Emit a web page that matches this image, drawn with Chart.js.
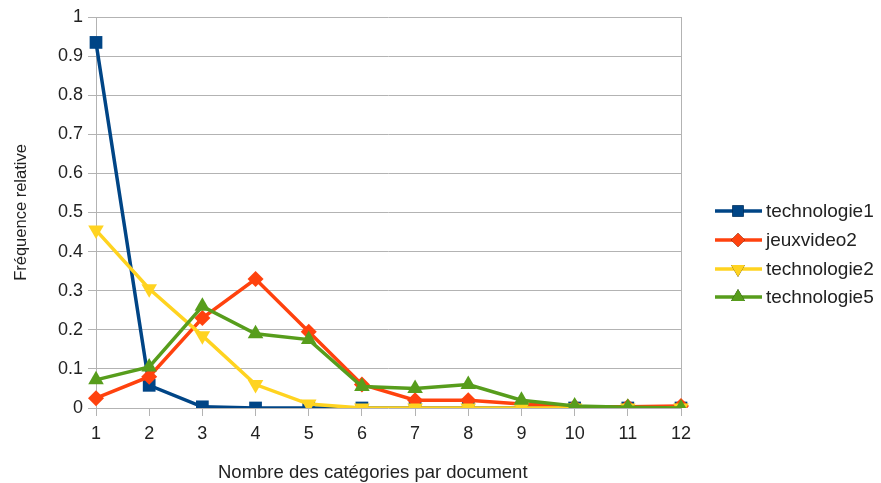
<!DOCTYPE html>
<html>
<head>
<meta charset="utf-8">
<script src="https://cdn.jsdelivr.net/npm/chart.js@4.4.0/dist/chart.umd.min.js"></script>
<style>
  html, body { margin: 0; padding: 0; background: #fff; }
  #wrap { width: 881px; height: 483px; }
</style>
</head>
<body>
<div id="wrap"><canvas id="chart"></canvas></div>
<script>
const categories = ['1', '2', '3', '4', '5', '6', '7', '8', '9', '10', '11', '12'];
const technologie1 = [0.935, 0.058, 0.003, 0, 0, 0, 0, 0, 0, 0, 0, 0];
const jeuxvideo2 = [0.025, 0.08, 0.23, 0.33, 0.195, 0.06, 0.02, 0.02, 0.01, 0.003, 0.003, 0.005];
const technologie2 = [0.455, 0.305, 0.185, 0.06, 0.01, 0, 0, 0, 0, 0, 0, 0];
const technologie5 = [0.072, 0.105, 0.26, 0.19, 0.175, 0.055, 0.05, 0.06, 0.02, 0.005, 0.002, 0];
const xTitle = 'Nombre des catégories par document';

const font = "'Liberation Sans', Arial, sans-serif";
const textColor = '#222';

function series(label, data, color, pointStyle, rotation, radius, order) {
    return {
        label, data, order,
        borderColor: color, backgroundColor: color,
        borderWidth: 3.5,
        pointStyle, rotation, pointRadius: radius, pointHoverRadius: radius,
        pointBorderWidth: 0,
        tension: 0
    };
}

// legend with line + marker, like the office-suite one, plus the x title
// (which sits left of the plot centre in the original)
const extras = {
    id: 'extras',
    afterDraw(chart) {
        const ctx = chart.ctx;
        const rows = [211, 240, 269, 297];
        chart.data.datasets.forEach((ds, i) => {
            const y = rows[i];
            ctx.save();
            ctx.strokeStyle = ds.borderColor;
            ctx.lineWidth = 3.5;
            ctx.beginPath();
            ctx.moveTo(715, y);
            ctx.lineTo(762, y);
            ctx.stroke();
            Chart.helpers.drawPoint(ctx, {
                pointStyle: ds.pointStyle, rotation: ds.rotation,
                radius: ds.pointRadius - 1, borderWidth: 0
            }, 738, y);
            ctx.fillStyle = ds.borderColor;
            ctx.fill();
            ctx.fillStyle = textColor;
            ctx.font = '19px ' + font;
            ctx.textBaseline = 'middle';
            ctx.fillText(ds.label, 766, y + 1);
            ctx.restore();
        });
        ctx.save();
        ctx.fillStyle = textColor;
        ctx.font = '18.5px ' + font;
        ctx.textBaseline = 'alphabetic';
        ctx.fillText(xTitle, 218, 478);
        ctx.restore();
    }
};

new Chart(document.getElementById('chart'), {
    type: 'line',
    data: {
        labels: categories,
        datasets: [
            series('technologie1', technologie1, '#004586', 'rect', 0, 9, 4),
            series('jeuxvideo2', jeuxvideo2, '#ff420e', 'rectRot', 0, 8, 3),
            series('technologie2', technologie2, '#ffd320', 'triangle', 180, 9, 2),
            series('technologie5', technologie5, '#579d1c', 'triangle', 0, 9, 1)
        ]
    },
    options: {
        responsive: true,
        maintainAspectRatio: false,
        animation: false,
        layout: { padding: { left: 0, top: 17, right: 200, bottom: 0 } },
        plugins: {
            legend: { display: false },
            tooltip: { enabled: false }
        },
        scales: {
            x: {
                offset: false,
                grid: {
                    color: c => (c.index === 0 || c.index === categories.length - 1) ? '#b3b3b3' : 'rgba(0,0,0,0)',
                    tickColor: '#b3b3b3',
                    tickLength: 8
                },
                border: { display: false },
                ticks: { color: textColor, font: { family: font, size: 18 }, padding: 7, maxRotation: 0 },
                afterFit: s => { s.height = 75; }
            },
            y: {
                min: 0, max: 1,
                ticks: {
                    stepSize: 0.1, color: textColor, font: { family: font, size: 18 }, padding: 5,
                    callback: v => String(Number(v.toFixed(1)))
                },
                grid: { color: '#b3b3b3', tickColor: '#b3b3b3', tickLength: 8 },
                border: { display: false },
                title: {
                    display: true, text: 'Fréquence relative',
                    color: textColor, font: { family: font, size: 16.5 }, padding: { top: 12, bottom: 0 }
                },
                afterFit: s => { s.width = 96; }
            }
        }
    },
    plugins: [extras]
});
</script>
</body>
</html>
